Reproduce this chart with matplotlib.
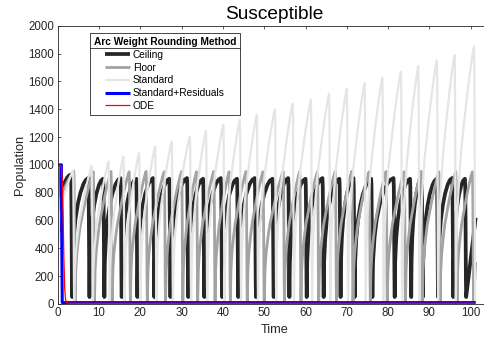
import matplotlib
matplotlib.use("Agg")
import matplotlib.pyplot as plt
from matplotlib.lines import Line2D

plt.rcParams['font.family'] = ['Liberation Sans', 'DejaVu Sans']

# ---------------- data ----------------
series_names = ["Ceiling", "Floor", "Standard", "Standard+Residuals", "ODE"]

# Ceiling (black): start, peaks, troughs
ceil_start_t = [0.0, 0.25]
ceil_start_v = [1000, 520]
ceil_peak_t = [3.2, 7.4, 11.0, 15.2, 19.0, 23.1, 27.0, 31.3, 35.2, 39.5, 43.4, 47.7,
               52.0, 55.8, 60.0, 64.1, 68.2, 71.6, 75.9, 81.3, 85.3, 88.1, 91.8, 95.5, 98.6]
ceil_peak_v = [930, 905, 900, 905, 900, 905, 900, 905, 900, 905, 900, 905,
               900, 905, 900, 905, 900, 905, 900, 905, 900, 905, 900, 905, 900]
ceil_low_v = 50
ceil_end_t = [101.2]
ceil_end_v = [620]

# Floor (mid grey)
floor_start_t = [0.0, 0.25]
floor_start_v = [1000, 600]
floor_peak_t = [3.9, 8.6, 12.9, 17.3, 21.4, 25.8, 30.0, 33.6, 37.8, 41.5, 45.6, 49.7,
                54.6, 58.6, 62.9, 67.2, 71.2, 75.4, 79.5, 83.9, 88.0, 92.3, 96.4, 100.4]
floor_peak_v = [955, 950, 952, 950, 953, 950, 952, 950, 953, 950, 952, 950,
                953, 950, 952, 950, 953, 950, 952, 950, 953, 950, 952, 950]
floor_low_v = 5
floor_end_t = [101.2]
floor_end_v = [300]

# Standard (light grey)
std_start_t = [0.0, 0.25]
std_start_v = [1000, 450]
std_peak_t = [3.7, 8.2, 12.3, 15.9, 19.7, 23.6, 27.6, 32.0, 35.9, 40.1, 44.1, 48.2,
              52.6, 56.9, 61.3, 65.7, 70.0, 74.3, 78.6, 83.1, 87.3, 91.8, 96.1, 100.8]
std_peak_v = [955, 990, 1023, 1059, 1083, 1131, 1167, 1203, 1246, 1287, 1323, 1359,
              1400, 1440, 1468, 1511, 1544, 1587, 1627, 1670, 1710, 1752, 1790, 1850]
std_low_v = 2
std_end_t = [101.2]
std_end_v = [2]

# Standard+Residuals (blue)
res_t = [0.0, 0.9, 1.0, 1.1, 101.2]
res_v = [1000, 1000, 400, 10, 10]

# ODE (red)
ode_t = [0.0, 0.6, 0.9, 1.1, 1.3, 1.5, 1.7, 1.9, 2.2, 3.0, 101.2]
ode_v = [1000, 997, 985, 900, 650, 330, 110, 30, 10, 5, 5]

# shape of one rise (fraction of rise time, fraction of rise height)
rise_tf = [0.0, 0.04, 0.10, 0.20, 0.30, 0.42, 0.54, 0.67, 0.80, 0.92, 1.0]
rise_vf = [0.0, 0.25, 0.38, 0.50, 0.60, 0.68, 0.76, 0.84, 0.91, 0.97, 1.0]
# the black (Ceiling) arcs climb a little faster
ceil_rise_tf = [0.0, 0.03, 0.10, 0.20, 0.35, 0.50, 0.70, 0.85, 1.0]
ceil_rise_vf = [0.0, 0.30, 0.50, 0.65, 0.78, 0.87, 0.95, 0.985, 1.0]
# shape of one drop (time after the peak, fraction of height)
drop_dt = [0.0, 0.08, 0.16, 0.24, 0.30]
drop_vf = [1.0, 0.93, 0.6, 0.15, 0.0]

x_ticks = list(range(0, 101, 10))
y_ticks = list(range(0, 2001, 200))


def build(start_t, start_v, peak_t, peak_v, low_v, end_t, end_v, tf, vf):
    ts = list(start_t)
    vs = list(start_v)
    t_prev, v_prev = ts[-1], vs[-1]
    for tp, pv in zip(peak_t, peak_v):
        dur = tp - t_prev
        for f, g in zip(tf[1:], vf[1:]):
            ts.append(t_prev + f * dur)
            vs.append(v_prev + g * (pv - v_prev))
        for d, g in zip(drop_dt[1:], drop_vf[1:]):
            ts.append(tp + d)
            vs.append(low_v + g * (pv - low_v))
        t_prev, v_prev = ts[-1], vs[-1]
    ts += list(end_t)
    vs += list(end_v)
    return ts, vs


fig = plt.figure(figsize=(4.84, 3.39), dpi=100)
ax_w = 105 * 4.13 / 484
ax = fig.add_axes([57.7 / 484, 35.0 / 339, ax_w, 278.3 / 339])

styles = [
    dict(color='#262626', lw=2.7),
    dict(color='#a3a3a3', lw=2.0),
    dict(color='#e5e5e5', lw=1.6),
    dict(color='#0000ff', lw=2.2),
    dict(color='#ff0000', lw=0.9),
]

cx, cy = build(ceil_start_t, ceil_start_v, ceil_peak_t, ceil_peak_v, ceil_low_v,
               ceil_end_t, ceil_end_v, ceil_rise_tf, ceil_rise_vf)
fx, fy = build(floor_start_t, floor_start_v, floor_peak_t, floor_peak_v, floor_low_v,
               floor_end_t, floor_end_v, rise_tf, rise_vf)
sx, sy = build(std_start_t, std_start_v, std_peak_t, std_peak_v, std_low_v,
               std_end_t, std_end_v, rise_tf, rise_vf)

handles = []
for (xs, ys), st, name in zip([(cx, cy), (fx, fy), (sx, sy), (res_t, res_v), (ode_t, ode_v)],
                              styles, series_names):
    h, = ax.plot(xs, ys, solid_joinstyle='round', solid_capstyle='butt', label=name, **st)
    handles.append(h)

ax.set_xlim(0, 105)
ax.set_ylim(0, 2000)
ax.set_xticks(x_ticks)
ax.set_yticks(y_ticks)
ax.tick_params(direction='in', length=2.4, width=0.5, labelsize=8.3, colors='#262626',
               top=True, right=True, pad=2.5)
for sp in ax.spines.values():
    sp.set_linewidth(0.6)
    sp.set_color('#262626')

ax.set_title("Susceptible", fontsize=13.8, pad=5.0, color='black')
ax.set_xlabel("Time", fontsize=9.2, labelpad=3.0, color='#262626')
ax.set_ylabel("Population", fontsize=9.2, labelpad=1.5, color='#262626')

leg = ax.legend(handles=handles, labels=series_names, title="Arc Weight Rounding Method",
                loc='upper left', bbox_to_anchor=(90 / 484, 1 - 33.3 / 339),
                bbox_transform=fig.transFigure, fontsize=7.3,
                title_fontproperties={'weight': 'bold', 'size': 7.3},
                frameon=True, fancybox=False, framealpha=1, edgecolor='#262626',
                handlelength=2.45, handletextpad=0.3, labelspacing=0.28, borderpad=0.35,
                borderaxespad=0)
leg.get_frame().set_linewidth(0.6)

fig.canvas.draw()
r = fig.canvas.get_renderer()
fb = leg.get_frame().get_window_extent(r)
tb = leg.get_title().get_window_extent(r)
ysep = tb.y0 - 1.5
inv = fig.transFigure.inverted()
(x0, y0) = inv.transform((fb.x0, ysep))
(x1, _) = inv.transform((fb.x1, ysep))
fig.add_artist(Line2D([x0, x1], [y0, y0], transform=fig.transFigure, color='#262626', lw=0.6))

fig.savefig("out.png", dpi=100)
